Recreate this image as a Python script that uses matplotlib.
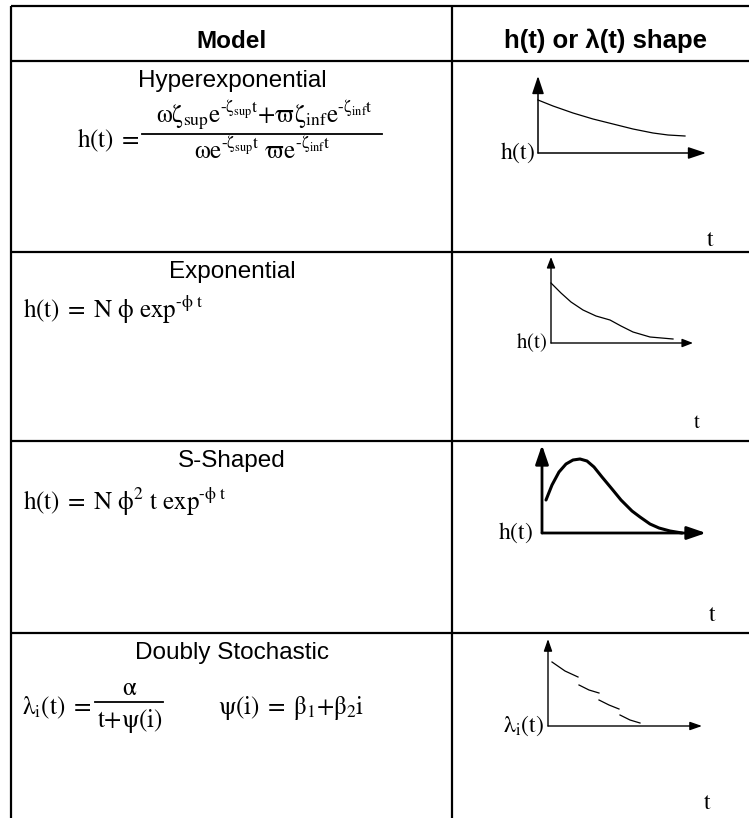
import matplotlib
matplotlib.use("Agg")
import matplotlib.pyplot as plt

plt.rcParams['font.family'] = ['Liberation Sans', 'DejaVu Sans']
plt.rcParams['mathtext.fontset'] = 'stix'
plt.rcParams['mathtext.default'] = 'rm'

# table text
headers = ['Model', r'h(t) or λ(t) shape']
row_titles = ['Hyperexponential', 'Exponential', 'S-Shaped', 'Doubly Stochastic']
axis_labels = [r'$h(t)$', r'$h(t)$', r'$h(t)$', r'$\lambda_i(t)$']

# sketch curves (in px from each little origin)
hyper_t = [0, 15, 35, 55, 75, 95, 115, 130, 147]
hyper_h = [53, 47, 40, 34, 29, 24, 20, 18, 17]

expo_t = [0, 10, 20, 32, 45, 59, 70, 82, 99, 122]
expo_h = [60, 50, 41, 33, 27, 23, 17, 11, 6, 4]

sshape_t = [4, 10, 17, 24, 31, 38, 45, 52, 60, 70, 79, 90, 98, 108, 117, 128, 140]
sshape_h = [33, 48, 61, 69, 73, 74, 72, 66, 56, 44, 33, 22, 16, 9, 5, 2, 0]

# doubly stochastic: four separate dashes
dash_t = [[4, 17, 30], [31, 41, 51], [51, 61, 71], [72, 82, 92]]
dash_h = [[64, 55, 49], [41, 36, 33], [26, 21, 17], [11, 6, 3]]

W, H = 749, 818
fig = plt.figure(figsize=(W / 100, H / 100), dpi=100)
ax = fig.add_axes([0, 0, 1, 1])
ax.set_xlim(0, W)
ax.set_ylim(H, 0)
ax.axis('off')

# grid of the table
row_lines = [6, 61, 252, 441, 633]
for y in row_lines:
    ax.plot([11, W], [y, y], color='black', lw=1.6, solid_capstyle='butt')
for x in [11, 452]:
    ax.plot([x, x], [6, H], color='black', lw=1.6, solid_capstyle='butt')

ax.text(232, 48, headers[0], ha='center', va='baseline', fontsize=17.5, fontweight='bold')
ax.text(605, 48, headers[1], ha='center', va='baseline', fontsize=18.5, fontweight='bold')

for i, name in enumerate(row_titles):
    ax.text(232, row_lines[i + 1] + 26, name, ha='center', va='baseline', fontsize=17.5)

# formulas
fs = 18
hy = r'\text{-}'
ax.text(77, 147, r'$h(t)\;=$', ha='left', va='baseline', fontsize=fs)
ax.text(264, 122, r'$\omega\zeta_{sup}e^{%s\zeta_{sup}t}{+}\varpi\zeta_{inf}e^{%s\zeta_{inf}t}$' % (hy, hy),
        ha='center', va='baseline', fontsize=18)
ax.plot([142, 382], [134, 134], color='black', lw=1.3)
ax.text(262, 159, r'$\omega e^{%s\zeta_{sup}t}\ \varpi e^{%s\zeta_{inf}t}$' % (hy, hy),
        ha='center', va='baseline', fontsize=18)

ax.text(23, 318, r'$h(t)\;=\;N\ \phi\ exp^{%s\phi\ t}$' % hy, ha='left', va='baseline', fontsize=fs)
ax.text(23, 510, r'$h(t)\;=\;N\ \phi^2\ t\ exp^{%s\phi\ t}$' % hy, ha='left', va='baseline', fontsize=fs)

ax.text(22, 714, r'$\lambda_i(t)\;=$', ha='left', va='baseline', fontsize=fs)
ax.text(130, 695, r'$\alpha$', ha='center', va='baseline', fontsize=fs)
ax.plot([95, 163], [702, 702], color='black', lw=1.3)
ax.text(130, 727, r'$t{+}\psi(i)$', ha='center', va='baseline', fontsize=fs)
ax.text(218, 714, r'$\psi(i)\;=\;\beta_1{+}\beta_2 i$', ha='left', va='baseline', fontsize=fs)

# sketches: origin px, width, height, axis lw, head len, head half width, curve lw
panels = [
    dict(ox=538, oy=153, w=168, h=77, lw=1.1, hl=15, hw=5, cw=0.9, gap=3, fs=17),
    dict(ox=551, oy=343, w=142, h=86, lw=1.0, hl=9, hw=3.5, cw=0.9, gap=4, fs=15),
    dict(ox=542, oy=533, w=164, h=88, lw=2.0, hl=16, hw=5.5, cw=2.2, gap=9, fs=17),
    dict(ox=548, oy=726, w=154, h=87, lw=1.0, hl=10, hw=3.5, cw=0.9, gap=4, fs=17),
]
t_pos = [(710, 240), (697, 422), (712, 615), (707, 803)]

sketch_axes = []
for k, p in enumerate(panels):
    sa = fig.add_axes([p['ox'] / W, (H - p['oy']) / H, p['w'] / W, p['h'] / H])
    sa.set_xlim(0, p['w'])
    sa.set_ylim(0, p['h'])
    sa.axis('off')
    style = '-|>,head_length=%.2f,head_width=%.2f' % (p['hl'] * 0.72, p['hw'] * 0.72)
    for tip in [(p['w'], 0), (0, p['h'])]:
        sa.annotate('', xy=tip, xytext=(0, 0), annotation_clip=False,
                    arrowprops=dict(arrowstyle=style, color='black', lw=p['lw'],
                                    shrinkA=0, shrinkB=0, mutation_scale=1))
    sketch_axes.append(sa)
    ax.text(p['ox'] - p['gap'], p['oy'], axis_labels[k], ha='right', va='center', fontsize=p['fs'])
    ax.text(t_pos[k][0], t_pos[k][1], r'$t$', ha='center', va='center', fontsize=p['fs'])

sketch_axes[0].plot(hyper_t, hyper_h, color='black', lw=panels[0]['cw'], clip_on=False)
sketch_axes[1].plot(expo_t, expo_h, color='black', lw=panels[1]['cw'], clip_on=False)
sketch_axes[2].plot(sshape_t, sshape_h, color='black', lw=panels[2]['cw'], clip_on=False,
                    solid_capstyle='round')
for dt, dh in zip(dash_t, dash_h):
    sketch_axes[3].plot(dt, dh, color='black', lw=panels[3]['cw'], clip_on=False)

fig.savefig('out.png', dpi=100)
